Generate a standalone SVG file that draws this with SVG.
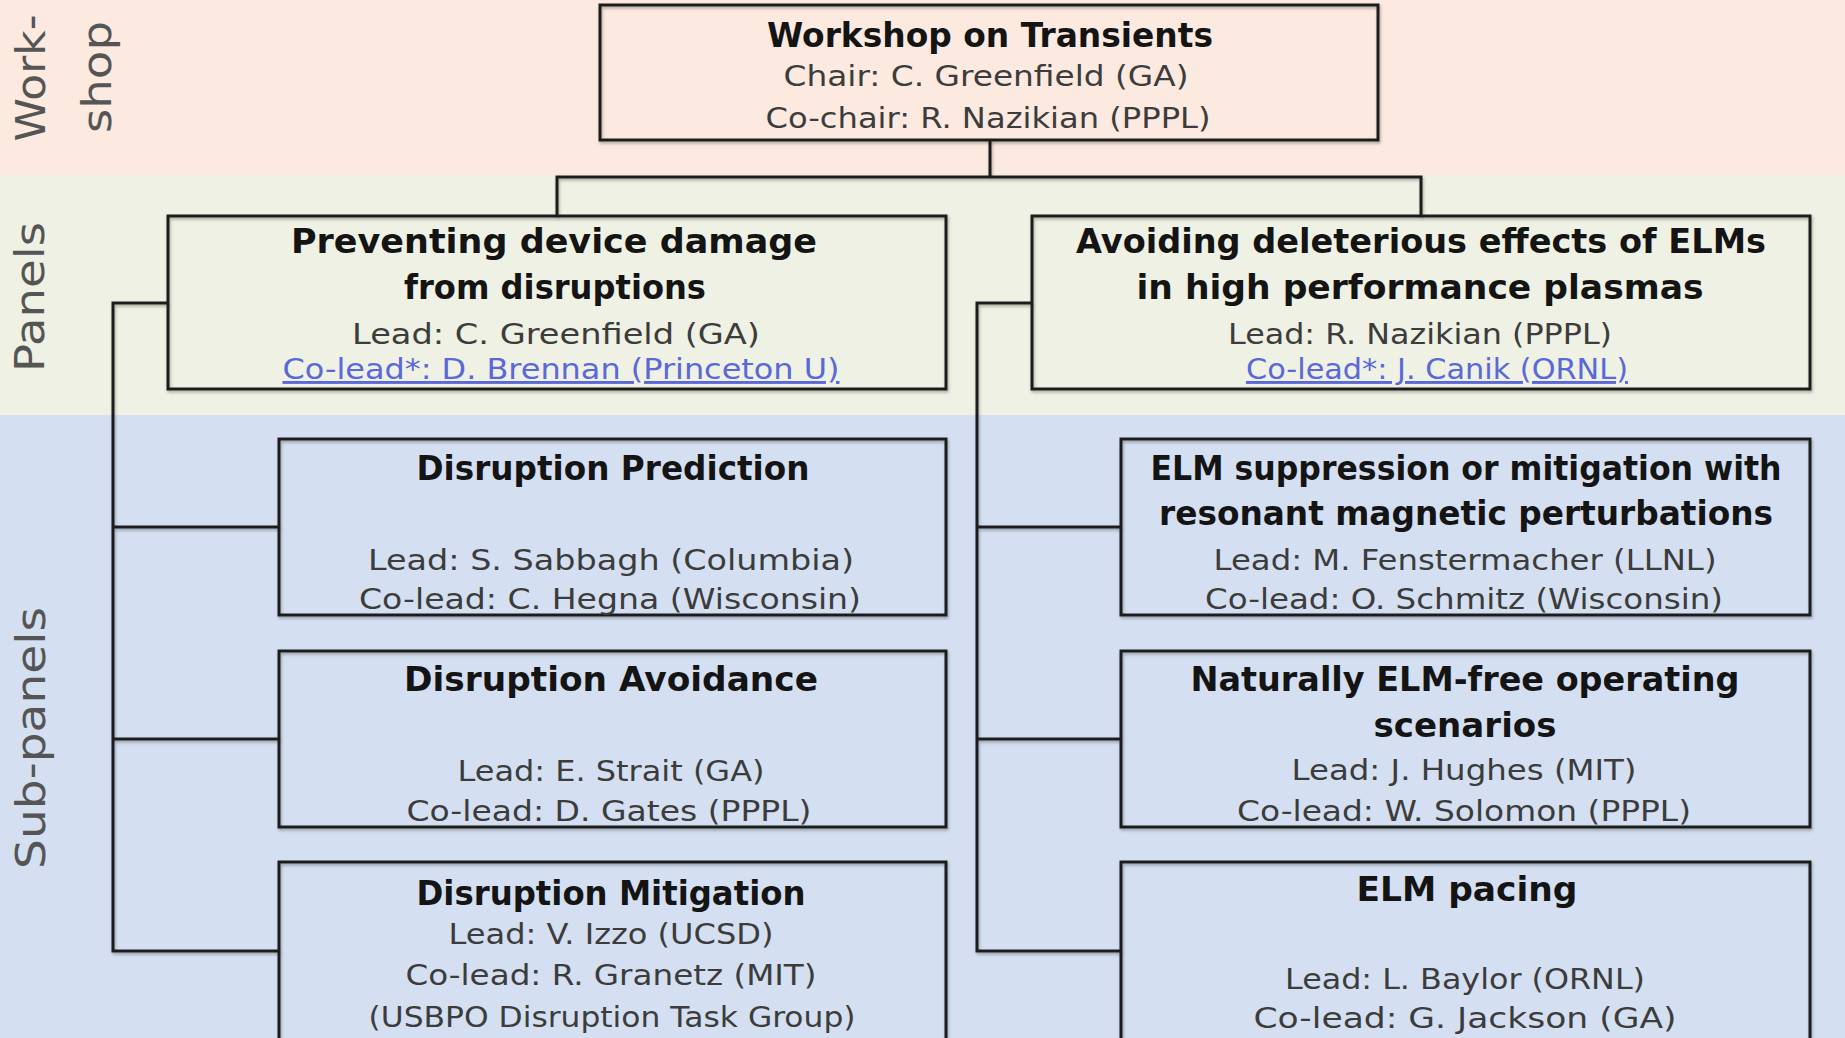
<svg xmlns="http://www.w3.org/2000/svg" width="1845" height="1038" viewBox="0 0 1845 1038">
  <defs>
    <filter id="sh" x="-5%" y="-5%" width="110%" height="115%">
      <feDropShadow dx="1" dy="2" stdDeviation="1.5" flood-color="#000" flood-opacity="0.3"/>
    </filter>
    <style>
      .lbl { font-family: "DejaVu Sans", "Liberation Sans", sans-serif; font-size: 40px; fill: #555555; text-anchor: middle; }
      .t { font-family: "DejaVu Sans", "Liberation Sans", sans-serif; font-weight: bold; font-size: 33px; fill: #141414; text-anchor: middle; }
      .tp { font-size: 34px; }
      .b { font-family: "DejaVu Sans", "Liberation Sans", sans-serif; font-size: 29px; fill: #3c3c3c; text-anchor: middle; }
      .lnk { fill: #5a68d8; text-decoration: underline; }
      .box { fill: none; stroke: #1e1e1e; stroke-width: 3; filter: url(#sh); }
      .conn { fill: none; stroke: #1e1e1e; stroke-width: 3; filter: url(#sh); }
    </style>
  </defs>

  <!-- bands -->
  <g id="bands">
    <rect x="0" y="0" width="1845" height="175" fill="#fce9df"/>
    <rect x="0" y="175" width="1845" height="240" fill="#eef1e3"/>
    <rect x="0" y="415" width="1845" height="623" fill="#d4e0f1"/>
    <text class="lbl" transform="translate(45,78) rotate(-90)" textLength="127" lengthAdjust="spacingAndGlyphs">Work-</text>
    <text class="lbl" transform="translate(111,77) rotate(-90)" textLength="112" lengthAdjust="spacingAndGlyphs">shop</text>
    <text class="lbl" transform="translate(44,297) rotate(-90)" textLength="150" lengthAdjust="spacingAndGlyphs">Panels</text>
    <text class="lbl" transform="translate(45,738) rotate(-90)" textLength="262" lengthAdjust="spacingAndGlyphs">Sub-panels</text>
  </g>

  <!-- connectors -->
  <g id="connectors">
    <path class="conn" d="M990 140 V177 M557 216 V177 H1421 V216"/>
    <path class="conn" d="M168 303 H113 V951 H279 M113 527 H279 M113 739 H279"/>
    <path class="conn" d="M1032 303 H977 V951 H1121 M977 527 H1121 M977 739 H1121"/>
  </g>

  <!-- workshop -->
  <g id="workshop">
    <rect class="box" x="600" y="5" width="778" height="135"/>
    <text class="t" x="990" y="47" textLength="446" lengthAdjust="spacingAndGlyphs">Workshop on Transients</text>
    <text class="b" x="986" y="86" textLength="405" lengthAdjust="spacingAndGlyphs">Chair: C. Greenfield (GA)</text>
    <text class="b" x="988" y="128" textLength="445" lengthAdjust="spacingAndGlyphs">Co-chair: R. Nazikian (PPPL)</text>
  </g>

  <!-- panels -->
  <g id="panel-disruptions">
    <rect class="box" x="168" y="216" width="778" height="173"/>
    <text class="t tp" x="554" y="253" textLength="526" lengthAdjust="spacingAndGlyphs">Preventing device damage</text>
    <text class="t tp" x="555" y="299" textLength="302" lengthAdjust="spacingAndGlyphs">from disruptions</text>
    <text class="b" x="556" y="344" textLength="408" lengthAdjust="spacingAndGlyphs">Lead: C. Greenfield (GA)</text>
    <text class="b lnk" x="561" y="379" textLength="557" lengthAdjust="spacingAndGlyphs">Co-lead*: D. Brennan (Princeton U)</text>
  </g>
  <g id="panel-elms">
    <rect class="box" x="1032" y="216" width="778" height="173"/>
    <text class="t tp" x="1421" y="253" textLength="690" lengthAdjust="spacingAndGlyphs">Avoiding deleterious effects of ELMs</text>
    <text class="t tp" x="1420" y="299" textLength="567" lengthAdjust="spacingAndGlyphs">in high performance plasmas</text>
    <text class="b" x="1420" y="344" textLength="384" lengthAdjust="spacingAndGlyphs">Lead: R. Nazikian (PPPL)</text>
    <text class="b lnk" x="1437" y="379" textLength="382" lengthAdjust="spacingAndGlyphs">Co-lead*: J. Canik (ORNL)</text>
  </g>

  <!-- left sub-panels -->
  <g id="sub-prediction">
    <rect class="box" x="279" y="439" width="667" height="176"/>
    <text class="t" x="613" y="480" textLength="393" lengthAdjust="spacingAndGlyphs">Disruption Prediction</text>
    <text class="b" x="611" y="570" textLength="486" lengthAdjust="spacingAndGlyphs">Lead: S. Sabbagh (Columbia)</text>
    <text class="b" x="610" y="609" textLength="502" lengthAdjust="spacingAndGlyphs">Co-lead: C. Hegna (Wisconsin)</text>
  </g>
  <g id="sub-avoidance">
    <rect class="box" x="279" y="651" width="667" height="176"/>
    <text class="t" x="611" y="691" textLength="414" lengthAdjust="spacingAndGlyphs">Disruption Avoidance</text>
    <text class="b" x="611" y="781" textLength="307" lengthAdjust="spacingAndGlyphs">Lead: E. Strait (GA)</text>
    <text class="b" x="609" y="821" textLength="405" lengthAdjust="spacingAndGlyphs">Co-lead: D. Gates (PPPL)</text>
  </g>
  <g id="sub-mitigation">
    <rect class="box" x="279" y="862" width="667" height="200"/>
    <text class="t" x="611" y="905" textLength="389" lengthAdjust="spacingAndGlyphs">Disruption Mitigation</text>
    <text class="b" x="611" y="944" textLength="325" lengthAdjust="spacingAndGlyphs">Lead: V. Izzo (UCSD)</text>
    <text class="b" x="611" y="985" textLength="411" lengthAdjust="spacingAndGlyphs">Co-lead: R. Granetz (MIT)</text>
    <text class="b" x="612" y="1027" textLength="487" lengthAdjust="spacingAndGlyphs">(USBPO Disruption Task Group)</text>
  </g>

  <!-- right sub-panels -->
  <g id="sub-rmp">
    <rect class="box" x="1121" y="439" width="689" height="176"/>
    <text class="t" x="1466" y="480" textLength="631" lengthAdjust="spacingAndGlyphs">ELM suppression or mitigation with</text>
    <text class="t" x="1466" y="525" textLength="614" lengthAdjust="spacingAndGlyphs">resonant magnetic perturbations</text>
    <text class="b" x="1465" y="570" textLength="503" lengthAdjust="spacingAndGlyphs">Lead: M. Fenstermacher (LLNL)</text>
    <text class="b" x="1464" y="609" textLength="518" lengthAdjust="spacingAndGlyphs">Co-lead: O. Schmitz (Wisconsin)</text>
  </g>
  <g id="sub-elmfree">
    <rect class="box" x="1121" y="651" width="689" height="176"/>
    <text class="t" x="1465" y="691" textLength="549" lengthAdjust="spacingAndGlyphs">Naturally ELM-free operating</text>
    <text class="t" x="1465" y="737" textLength="183" lengthAdjust="spacingAndGlyphs">scenarios</text>
    <text class="b" x="1464" y="780" textLength="345" lengthAdjust="spacingAndGlyphs">Lead: J. Hughes (MIT)</text>
    <text class="b" x="1464" y="821" textLength="454" lengthAdjust="spacingAndGlyphs">Co-lead: W. Solomon (PPPL)</text>
  </g>
  <g id="sub-pacing">
    <rect class="box" x="1121" y="862" width="689" height="200"/>
    <text class="t" x="1467" y="901" textLength="221" lengthAdjust="spacingAndGlyphs">ELM pacing</text>
    <text class="b" x="1465" y="989" textLength="360" lengthAdjust="spacingAndGlyphs">Lead: L. Baylor (ORNL)</text>
    <text class="b" x="1465" y="1028" textLength="423" lengthAdjust="spacingAndGlyphs">Co-lead: G. Jackson (GA)</text>
  </g>
</svg>
